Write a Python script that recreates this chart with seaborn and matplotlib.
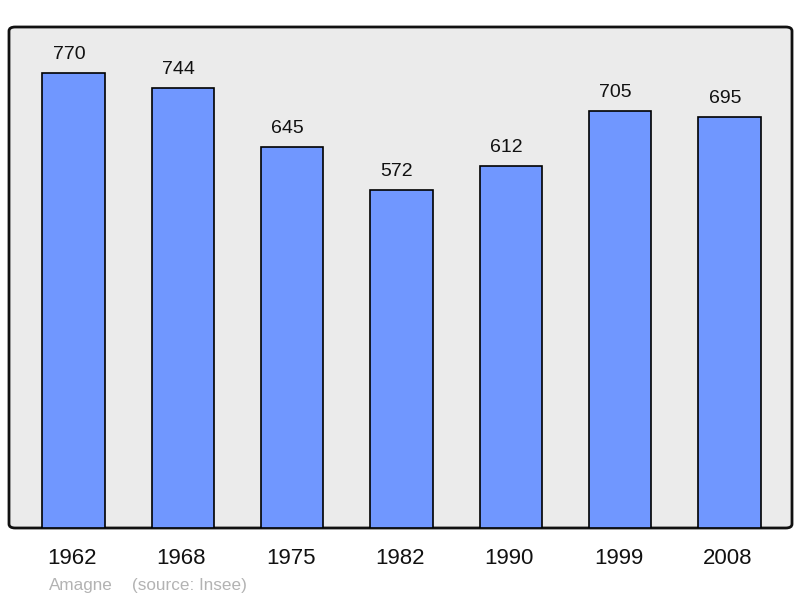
import matplotlib
matplotlib.use("Agg")
import matplotlib.pyplot as plt
import seaborn as sns
import pandas as pd
from matplotlib.patches import FancyBboxPatch

years = ["1962", "1968", "1975", "1982", "1990", "1999", "2008"]
population = [770, 744, 645, 572, 612, 705, 695]
commune = "Amagne"
source = "(source: Insee)"

sns.set_theme(style="white")
plt.rcParams['font.family'] = ['Liberation Sans', 'DejaVu Sans']

df = pd.DataFrame({"year": years, "pop": population})

fig = plt.figure(figsize=(8, 5.98), dpi=100)
ax = fig.add_axes([9/800, 1 - 528/598, 783/800, 501/598])
ax.set_facecolor("none")

bg = FancyBboxPatch((0, 0), 1, 1, boxstyle="round,pad=0,rounding_size=0.008",
                    transform=ax.transAxes, facecolor="#ebebeb", edgecolor="#111111",
                    linewidth=2, clip_on=False, zorder=0)
ax.add_patch(bg)

sns.barplot(data=df, x="year", y="pop", order=years, color="#7097ff",
            saturation=1, width=0.57, edgecolor="black", linewidth=1.2, ax=ax, zorder=2)

ax.set_xlim(-0.59, 6.572)
ax.set_ylim(0, 847.8)
for s in ax.spines.values():
    s.set_visible(False)
ax.set_yticks([])
ax.set_xticks([])
ax.set_xlabel("")
ax.set_ylabel("")

px = 72 / 100  # points per pixel
for i, v in enumerate(population):
    ax.annotate(str(v), (i, v), xytext=(-4.5 * px, 14 * px), textcoords="offset points",
                ha="center", va="baseline", fontsize=14, color="#111111")
    ax.annotate(years[i], (i, 0), xytext=(-1.5 * px, -36 * px), textcoords="offset points",
                ha="center", va="baseline", fontsize=16, color="#111111",
                annotation_clip=False)

fig.text(49/800, 1 - 590/598, commune, fontsize=12.3, color="#b3b3b3", va="baseline", ha="left")
fig.text(131.7/800, 1 - 590/598, source, fontsize=12.3, color="#b3b3b3", va="baseline", ha="left")

fig.savefig("out.png", dpi=100)
